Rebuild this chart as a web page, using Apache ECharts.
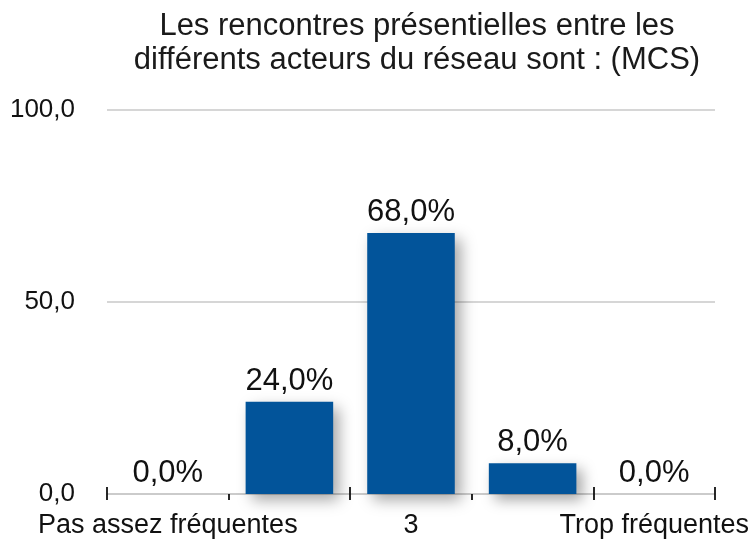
<!DOCTYPE html>
<html>
<head>
<meta charset="utf-8">
<script src="https://cdn.jsdelivr.net/npm/echarts@6/dist/echarts.min.js"></script>
<style>
  html, body { margin: 0; padding: 0; background: #fff; }
  #chart { width: 749px; height: 542px; }
</style>
</head>
<body>
<div id="chart"></div>
<script>
// categories / values
const categories = ['Pas assez fréquentes', '', '3', '', 'Trop fréquentes'];
const percents = [0, 24, 68, 8, 0];
const yTicks = [0, 50, 100];

const font = 'Liberation Sans, Helvetica, Arial, sans-serif';
const fmt = v => v.toFixed(1).replace('.', ',');

const chart = echarts.init(document.getElementById('chart'));
chart.setOption({
    animation: false,
    title: {
        text: 'Les rencontres présentielles entre les\ndifférents acteurs du réseau sont : (MCS)',
        left: 412,
        textAlign: 'center',
        top: 4,
        textStyle: { fontFamily: font, fontSize: 31, fontWeight: 'normal', color: '#1a1a1a', lineHeight: 34 }
    },
    grid: { left: 107, right: 34, top: 110, bottom: 48, outerBoundsMode: 'none', containLabel: false },
    xAxis: [
        {
            type: 'category',
            data: categories,
            axisLine: { lineStyle: { color: '#c8c8c8', width: 1.5 } },
            axisTick: { show: true, length: 6, lineStyle: { color: '#111', width: 1.8 } },
            axisLabel: { interval: 0, margin: 18, fontFamily: font, fontSize: 27, color: '#111' }
        },
        {
            // second copy only for the inner half of the ticks
            type: 'category',
            data: categories,
            position: 'bottom',
            axisLine: { show: false },
            axisTick: { show: true, inside: true, length: 7, lineStyle: { color: '#111', width: 1.8 } },
            axisLabel: { show: false }
        }
    ],
    yAxis: {
        type: 'value',
        min: yTicks[0],
        max: yTicks[yTicks.length - 1],
        interval: 50,
        axisLine: { show: false },
        axisTick: { show: false },
        splitLine: { lineStyle: { color: '#c8c8c8', width: 1.5 } },
        axisLabel: { margin: 32, fontFamily: font, fontSize: 26, color: '#111', formatter: v => fmt(v) }
    },
    series: [
        {
            type: 'bar',
            data: percents,
            barWidth: '72%',
            itemStyle: {
                color: '#02549a',
                shadowBlur: 14,
                shadowOffsetX: 6,
                shadowOffsetY: 6,
                shadowColor: 'rgba(0,0,0,0.35)'
            },
            label: {
                show: true,
                position: 'top',
                distance: 5,
                fontFamily: font,
                fontSize: 31,
                color: '#111',
                formatter: p => fmt(p.value) + '%'
            }
        }
    ]
});
</script>
</body>
</html>
